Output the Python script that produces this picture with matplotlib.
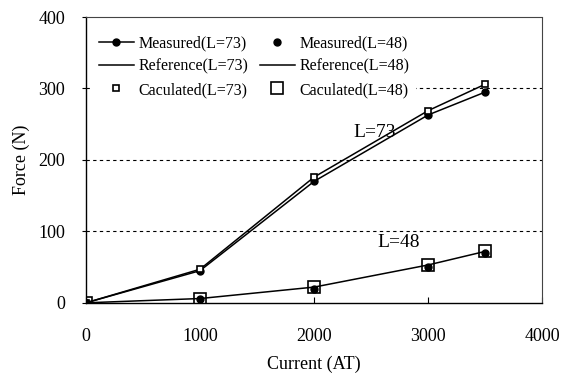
import matplotlib.pyplot as plt

plt.rcParams['font.family'] = ['Liberation Serif', 'DejaVu Serif']

# data
current = [0, 1000, 2000, 3000, 3500]
measured_73 = [0, 45, 170, 263, 295]
calculated_73 = [0, 47, 176, 269, 306]
measured_48 = [0, 5, 20, 50, 70]
calculated_48 = [0, 6, 22, 53, 72]

fig = plt.figure(figsize=(5.69, 3.79), dpi=100)
ax = fig.add_axes([0.151, 0.201, 0.802, 0.754])

for yv in [100, 200, 300]:
    ax.axhline(yv, color='black', lw=0.8, ls=(0, (3, 3)), zorder=1)

ax.plot(current, measured_73, color='black', lw=1.1, marker='o', ms=5,
        label='Measured(L=73)', zorder=3)
ax.plot(current, measured_48, ls='none', color='black', marker='o', ms=5,
        label='Measured(L=48)', zorder=4)
ax.plot(current, calculated_73, color='black', lw=1.1, label='Reference(L=73)', zorder=2)
ax.plot(current, calculated_48, color='black', lw=1.1, label='Reference(L=48)', zorder=2)
ax.plot(current, calculated_73, ls='none', marker='s', ms=5, mfc='white', mec='black',
        mew=1.2, label='Caculated(L=73)', zorder=3)
ax.plot(current, calculated_48, ls='none', marker='s', ms=8.5, mfc='none', mec='black',
        mew=1.2, label='Caculated(L=48)', zorder=3)

ax.text(2530, 238, 'L=73', fontsize=14, ha='center', va='center')
ax.text(2740, 84, 'L=48', fontsize=14, ha='center', va='center')

ax.set_xlim(0, 4000)
ax.set_ylim(0, 400)
ax.set_xticks([0, 1000, 2000, 3000, 4000])
ax.set_yticks([0, 100, 200, 300, 400])
ax.tick_params(axis='x', direction='in', length=4, pad=18, labelsize=13)
ax.tick_params(axis='y', direction='out', length=3, pad=12, labelsize=13)
ax.set_xlabel('Current (AT)', fontsize=13, labelpad=8)
ax.set_ylabel('Force (N)', fontsize=13, labelpad=6)

for side in ['top', 'right']:
    ax.spines[side].set_linestyle((0, (1, 1)))
    ax.spines[side].set_color('#444444')
    ax.spines[side].set_linewidth(0.8)
ax.spines['left'].set_linewidth(1.0)
ax.spines['bottom'].set_linewidth(1.0)

handles, labels = ax.get_legend_handles_labels()
order = [0, 2, 4, 1, 3, 5]
leg = ax.legend([handles[i] for i in order], [labels[i] for i in order],
                ncol=2, loc='upper left', frameon=True, fontsize=11.5,
                handlelength=2.2, handletextpad=0.3, columnspacing=0.7,
                labelspacing=0.45, borderaxespad=0.1, borderpad=0.4,
                bbox_to_anchor=(0.011, 0.963), fancybox=False)
leg.get_frame().set_facecolor('white')
leg.get_frame().set_edgecolor('none')
leg.get_frame().set_alpha(1.0)

fig.savefig('out.png', dpi=100)
